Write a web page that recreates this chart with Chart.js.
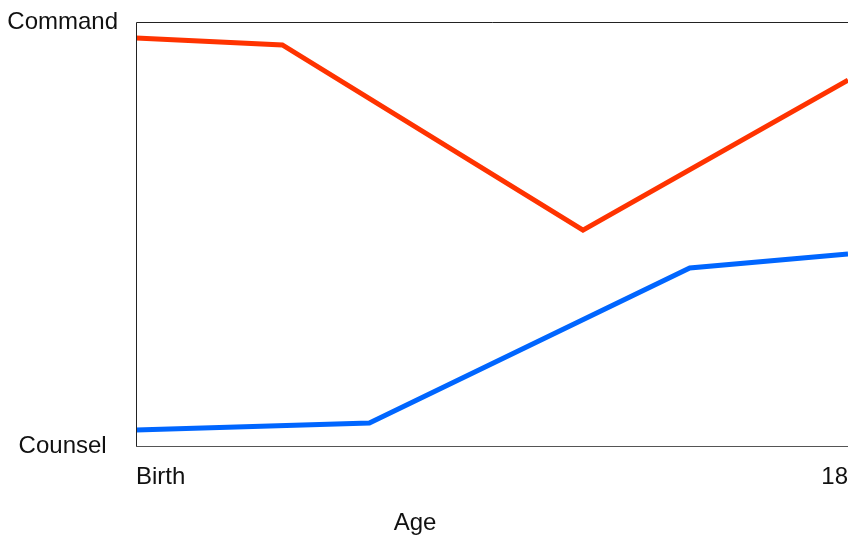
<!DOCTYPE html>
<html lang="en">
<head>
  <meta charset="UTF-8" />
  <title>Command vs Counsel by Age</title>
  <script src="https://cdn.jsdelivr.net/npm/chart.js"></script>
  <style>
    html, body { margin: 0; padding: 0; background: #fff; }
    .chart-container { width: 848px; height: 541px; position: relative; }
  </style>
</head>
<body>

<div class="chart-container">
  <canvas id="styleChart"></canvas>
</div>

<script>
  // data (age in years, 0 = counsel, 100 = command)
  const redAges = [0, 3.7, 11.3, 18];
  const redValues = [96.2, 94.6, 50.9, 86.3];
  const blueAges = [0, 5.9, 14, 18];
  const blueValues = [3.8, 5.4, 42, 45.3];

  const xTickValues = [0, 18];
  const xTickLabels = ['Birth', '18'];
  const yTickValues = [0, 100];
  const yTickLabels = ['Counsel', 'Command'];
  const xTitle = 'Age';

  const toPoints = (xs, ys) => xs.map((x, i) => ({ x: x, y: ys[i] }));

  // box round the plot area (no right side, it runs off the canvas)
  // and the axis title, which sits left of the axis middle in the original
  const frame = {
    id: 'frame',
    afterDatasetsDraw(chart) {
      const { ctx, chartArea: a } = chart;
      ctx.save();
      ctx.lineWidth = 1;
      ctx.strokeStyle = '#222';
      ctx.beginPath();
      ctx.moveTo(a.right, a.top + 0.5);
      ctx.lineTo(a.left + 0.5, a.top + 0.5);
      ctx.lineTo(a.left + 0.5, a.bottom + 0.5);
      ctx.stroke();
      ctx.strokeStyle = '#555';
      ctx.beginPath();
      ctx.moveTo(a.left, a.bottom + 0.5);
      ctx.lineTo(a.right, a.bottom + 0.5);
      ctx.stroke();

      ctx.fillStyle = '#111';
      ctx.font = '24px "Liberation Sans", Arial, sans-serif';
      ctx.textAlign = 'center';
      ctx.textBaseline = 'middle';
      ctx.fillText(xTitle, a.left + 279, a.bottom + 77);
      ctx.restore();
    }
  };

  Chart.defaults.font.family = '"Liberation Sans", Arial, sans-serif';
  Chart.defaults.font.size = 24;
  Chart.defaults.color = '#111';

  new Chart(document.getElementById('styleChart'), {
    type: 'line',
    data: {
      datasets: [
        {
          label: 'Command',
          data: toPoints(redAges, redValues),
          borderColor: '#ff3300',
          borderWidth: 5,
          pointRadius: 0,
          tension: 0
        },
        {
          label: 'Counsel',
          data: toPoints(blueAges, blueValues),
          borderColor: '#0066ff',
          borderWidth: 5,
          pointRadius: 0,
          tension: 0
        }
      ]
    },
    options: {
      responsive: true,
      maintainAspectRatio: false,
      animation: false,
      layout: { padding: { top: 22, right: 0, bottom: 0, left: 0 } },
      plugins: { legend: { display: false }, tooltip: { enabled: false } },
      scales: {
        x: {
          type: 'linear',
          min: 0,
          max: 18,
          grid: { display: false },
          border: { display: false },
          afterBuildTicks: s => { s.ticks = xTickValues.map(v => ({ value: v })); },
          afterFit: s => { s.height = 95; s.paddingLeft = 0; s.paddingRight = 0; },
          ticks: {
            align: 'inner',
            padding: 9,
            maxRotation: 0,
            callback: (v) => xTickLabels[xTickValues.indexOf(v)]
          }
        },
        y: {
          min: 0,
          max: 100,
          grid: { display: false },
          border: { display: false },
          afterBuildTicks: s => { s.ticks = yTickValues.map(v => ({ value: v })); },
          afterFit: s => { s.width = 136; s.paddingTop = 0; s.paddingBottom = 0; },
          ticks: {
            crossAlign: 'center',
            padding: 10,
            callback: (v) => yTickLabels[yTickValues.indexOf(v)]
          }
        }
      }
    },
    plugins: [frame]
  });
</script>

</body>
</html>
